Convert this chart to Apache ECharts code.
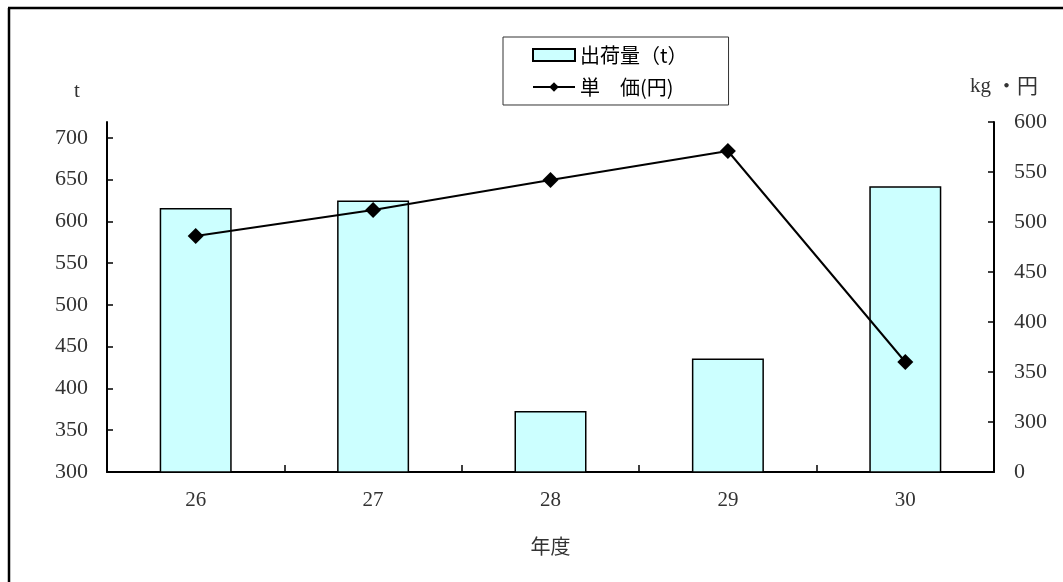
<!DOCTYPE html>
<html>
<head>
<meta charset="utf-8">
<script src="https://cdn.jsdelivr.net/npm/echarts@6/dist/echarts.min.js"></script>
<style>html,body{margin:0;padding:0;background:#fff}#c{width:1063px;height:582px}</style>
</head>
<body>
<div id="c"></div>
<script>
var categories = ['26', '27', '28', '29', '30'];
var shipment = [616, 625, 373, 436, 642];
var price = [486, 512, 542, 571, 360];
var leftTicks = [300, 350, 400, 450, 500, 550, 600, 650, 700];
var rightTicks = [250, 300, 350, 400, 450, 500, 550, 600];
var rightTickLabels = ['0', '300', '350', '400', '450', '500', '550', '600'];
var seriesNames = ['出荷量（t）', '単　価(円)'];

var serif = "'Liberation Serif', 'DejaVu Serif', serif";
var jp = "'Noto Sans CJK JP', sans-serif";
var chart = echarts.init(document.getElementById('c'));
chart.setOption({
  animation: false,
  backgroundColor: '#fff',
  grid: { left: 107, right: 69, top: 122, bottom: 110 },
  legend: {
    orient: 'vertical',
    left: 503, top: 37,
    padding: [8, 41, 8, 29],
    itemGap: 12,
    itemWidth: 42, itemHeight: 12,
    borderColor: '#333', borderWidth: 1,
    textStyle: { fontFamily: jp, fontSize: 20, color: '#000' },
    data: [
      { name: seriesNames[0], icon: 'rect' },
      { name: seriesNames[1] }
    ]
  },
  xAxis: {
    type: 'category',
    data: categories,
    boundaryGap: true,
    name: '年度',
    nameLocation: 'middle',
    nameGap: 64,
    nameTextStyle: { fontFamily: jp, fontSize: 20, color: '#333' },
    axisLine: { lineStyle: { color: '#000', width: 2 } },
    axisTick: { show: true, inside: true, length: 7, lineStyle: { color: '#000', width: 1.5 } },
    axisLabel: { fontFamily: serif, fontSize: 21, color: '#333', margin: 18 }
  },
  yAxis: [
    {
      type: 'value', min: 300, max: 719, position: 'left',
      splitLine: { show: false },
      axisLine: { show: true, lineStyle: { color: '#000', width: 2 } },
      axisTick: { show: true, inside: true, length: 6, customValues: leftTicks, lineStyle: { color: '#000', width: 1.5 } },
      axisLabel: { customValues: leftTicks, fontFamily: serif, fontSize: 22, color: '#333', margin: 19 }
    },
    {
      type: 'value', min: 250, max: 600, interval: 50, position: 'right',
      splitLine: { show: false },
      axisLine: { show: true, lineStyle: { color: '#000', width: 2 } },
      axisTick: { show: true, inside: true, length: 6, lineStyle: { color: '#000', width: 1.5 } },
      axisLabel: {
        fontFamily: serif, fontSize: 22, color: '#333', margin: 20,
        formatter: function (v) { var i = rightTicks.indexOf(v); return i >= 0 ? rightTickLabels[i] : ''; }
      }
    }
  ],
  graphic: [
    { type: 'text', left: 74, top: 81, style: { text: 't', font: "21px 'Liberation Serif'", fill: '#333' } },
    { type: 'text', left: 970, top: 76, style: { text: 'kg', font: "21px 'Liberation Serif'", fill: '#333' } },
    { type: 'text', left: 996, top: 75, style: { text: '・円', font: "21px 'Noto Sans CJK JP'", fill: '#333' } },
    { type: 'line', shape: { x1: 9, y1: 8, x2: 9, y2: 582 }, style: { stroke: '#000', lineWidth: 2.5 } },
    { type: 'line', shape: { x1: 8, y1: 8, x2: 1063, y2: 8 }, style: { stroke: '#000', lineWidth: 2.5 } }
  ],
  series: [
    {
      name: seriesNames[0], type: 'bar', yAxisIndex: 0,
      data: shipment, barWidth: 72,
      itemStyle: { color: '#CCFFFF', borderColor: '#000', borderWidth: 1.5 }
    },
    {
      name: seriesNames[1], type: 'line', yAxisIndex: 1,
      data: price, symbol: 'diamond', symbolSize: 16,
      lineStyle: { color: '#000', width: 2 },
      itemStyle: { color: '#000' }
    }
  ]
});
</script>
</body>
</html>
